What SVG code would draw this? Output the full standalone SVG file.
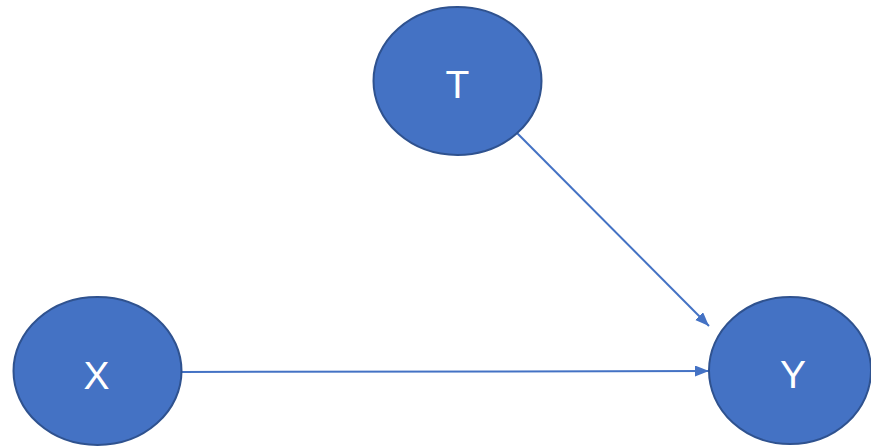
<svg xmlns="http://www.w3.org/2000/svg" width="871" height="446" viewBox="0 0 871 446">
<style>
.node{fill:#4472C4;stroke:#2F528F;stroke-width:2}
.lbl{fill:#FFFFFF;font-family:"Liberation Sans","Open Sans",sans-serif;font-size:39px;text-anchor:middle}
.edge{stroke:#4472C4;stroke-width:2;fill:none}
</style>
<defs>
<marker id="arr" markerUnits="userSpaceOnUse" markerWidth="16" markerHeight="12" refX="14" refY="5.5" orient="auto">
<path d="M0,0 L14,5.5 L0,11 Z" fill="#4472C4"/>
</marker>
</defs>
<rect width="871" height="446" fill="#FFFFFF"/>
<g id="edges">
<line class="edge" x1="182" y1="372" x2="709" y2="371" marker-end="url(#arr)"/>
<line class="edge" x1="517" y1="133" x2="709" y2="326" marker-end="url(#arr)"/>
</g>
<g id="node-T">
<ellipse class="node" cx="457.5" cy="81" rx="84" ry="74"/>
<text class="lbl" x="457.5" y="98">T</text>
</g>
<g id="node-X">
<ellipse class="node" cx="97.5" cy="371" rx="84" ry="74"/>
<text class="lbl" x="96.5" y="389">X</text>
</g>
<g id="node-Y">
<ellipse class="node" cx="790" cy="370.5" rx="81" ry="73.5"/>
<text class="lbl" x="793" y="388">Y</text>
</g>
</svg>
